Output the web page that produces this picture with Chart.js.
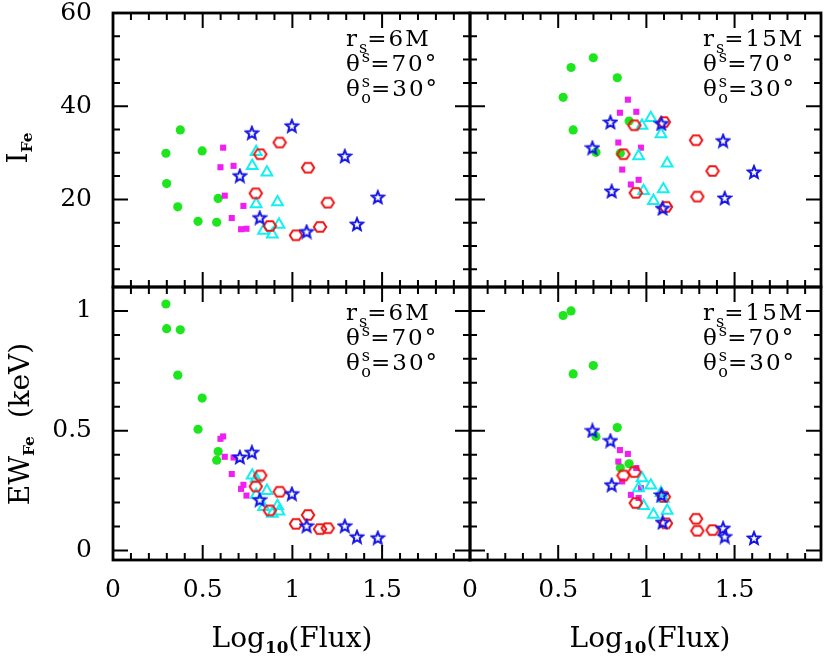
<!DOCTYPE html>
<html>
<head>
<meta charset="utf-8">
<script src="https://cdn.jsdelivr.net/npm/chart.js@4.4.1/dist/chart.umd.min.js"></script>
<style>
  body { margin: 0; background: #fff; }
  #wrap { position: relative; width: 830px; height: 656px; font-family: 'DejaVu Serif', serif; color: #000; overflow: hidden; }
  #wrap canvas { position: absolute; left: 0; top: 0; }
  .note { position: absolute; font-size: 23px; line-height: 25px; letter-spacing: 2px; white-space: nowrap; }
  .note sup, .note sub { font-size: 0.7em; line-height: 0; letter-spacing: 0; }
  .note sup { vertical-align: 0.55em; }
  .note sub { vertical-align: -0.45em; }
  .xtitle { position: absolute; top: 622px; width: 300px; margin-left: -150px; text-align: center; font-size: 28px; line-height: 32px; white-space: nowrap; }
  .xtitle sub { font-size: 0.6em; font-weight: bold; line-height: 0; vertical-align: -0.35em; }
  .ytitle { position: absolute; font-size: 28px; line-height: 32px; white-space: nowrap; transform: translate(-50%, -50%) rotate(-90deg); }
  .ytitle sub { font-size: 0.55em; font-weight: bold; line-height: 0; vertical-align: -0.3em; }
</style>
</head>
<body>
<div id="wrap">
  <canvas id="tl" width="830" height="656"></canvas>
  <canvas id="tr" width="830" height="656"></canvas>
  <canvas id="bl" width="830" height="656"></canvas>
  <canvas id="br" width="830" height="656"></canvas>

  <div class="note" style="left:346px; top:26px">r<sub>s</sub>=6M</div>
  <div class="note" style="left:346px; top:51px">θ<sup>s</sup>=70°</div>
  <div class="note" style="left:346px; top:76px">θ<sup>s</sup><sub style="margin-left:-0.55em">o</sub>=30°</div>

  <div class="note" style="left:703px; top:26px">r<sub>s</sub>=15M</div>
  <div class="note" style="left:703px; top:51px">θ<sup>s</sup>=70°</div>
  <div class="note" style="left:703px; top:76px">θ<sup>s</sup><sub style="margin-left:-0.55em">o</sub>=30°</div>

  <div class="note" style="left:346px; top:300px">r<sub>s</sub>=6M</div>
  <div class="note" style="left:346px; top:325px">θ<sup>s</sup>=70°</div>
  <div class="note" style="left:346px; top:350px">θ<sup>s</sup><sub style="margin-left:-0.55em">o</sub>=30°</div>

  <div class="note" style="left:703px; top:300px">r<sub>s</sub>=15M</div>
  <div class="note" style="left:703px; top:325px">θ<sup>s</sup>=70°</div>
  <div class="note" style="left:703px; top:350px">θ<sup>s</sup><sub style="margin-left:-0.55em">o</sub>=30°</div>

  <div class="ytitle" style="left:18px; top:148px">I<sub>Fe</sub></div>
  <div class="ytitle" style="left:20px; top:424px">EW<sub>Fe</sub>&nbsp; (keV)</div>
  <div class="xtitle" style="left:292px">Log<sub>10</sub>(Flux)</div>
  <div class="xtitle" style="left:650px">Log<sub>10</sub>(Flux)</div>
</div>

<script>
// axes
const fluxRange = [0, 1.99];
const ifeRange = [1.2, 60];
const ewRange = [-0.04, 1.1];
const fluxMajor = [0, 0.5, 1, 1.5];
const ifeMajor = [20, 40, 60];
const ewMajor = [0, 0.5, 1];
const fluxStep = 0.1, ifeStep = 5, ewStep = 0.1;

// r_s = 6M  (panneaux de gauche)
const flux6Green   = [0.375, 0.295, 0.497, 0.299, 0.361, 0.586, 0.474, 0.578];
const ife6Green    = [34.9, 29.9, 30.4, 23.4, 18.4, 20.2, 15.3, 15.1];
const ew6Green     = [0.921, 1.029, 0.636, 0.926, 0.732, 0.413, 0.506, 0.377];
const flux6Magenta = [0.614, 0.599, 0.672, 0.623, 0.727, 0.662, 0.714, 0.744];
const ife6Magenta  = [31.1, 26.9, 27.2, 20.8, 18.6, 16.0, 13.6, 13.7];
const ew6Magenta   = [0.476, 0.466, 0.388, 0.391, 0.274, 0.319, 0.257, 0.229];
const flux6Cyan    = [0.798, 0.776, 0.858, 0.798, 0.917, 0.925, 0.839, 0.888];
const ife6Cyan     = [30.2, 27.2, 25.8, 19.0, 19.4, 14.6, 13.3, 12.5];
const ew6Cyan      = [0.300, 0.313, 0.249, 0.232, 0.186, 0.163, 0.182, 0.154];
const flux6Red     = [0.929, 0.821, 1.087, 0.796, 1.197, 0.874, 1.154, 1.020];
const ife6Red      = [32.2, 29.7, 26.8, 21.3, 19.3, 14.3, 14.1, 12.3];
const ew6Red       = [0.245, 0.313, 0.148, 0.267, 0.093, 0.167, 0.089, 0.111];
const flux6Blue    = [0.774, 0.997, 0.707, 1.292, 1.476, 0.818, 1.360, 1.079];
const ife6Blue     = [34.3, 35.8, 25.1, 29.3, 20.5, 16.1, 14.7, 13.1];
const ew6Blue      = [0.410, 0.237, 0.390, 0.103, 0.053, 0.212, 0.057, 0.103];

// r_s = 15M  (panneaux de droite)
const flux15Green   = [0.699, 0.573, 0.835, 0.528, 0.585, 0.902, 0.714, 0.852];
const ife15Green    = [50.4, 48.3, 46.1, 41.9, 34.9, 36.8, 30.1, 29.9];
const ew15Green     = [0.772, 1.000, 0.513, 0.981, 0.737, 0.362, 0.476, 0.345];
const flux15Magenta = [0.895, 0.850, 0.943, 0.841, 0.969, 0.863, 0.956, 0.912];
const ife15Magenta  = [41.4, 38.6, 38.8, 32.2, 31.1, 26.4, 24.2, 23.2];
const ew15Magenta   = [0.403, 0.419, 0.344, 0.371, 0.260, 0.288, 0.219, 0.232];
const flux15Cyan    = [1.025, 0.975, 1.083, 0.956, 1.118, 1.096, 0.984, 1.040];
const ife15Cyan     = [37.5, 35.8, 34.0, 29.3, 27.7, 22.2, 21.8, 19.7];
const ew15Cyan      = [0.271, 0.302, 0.240, 0.260, 0.166, 0.216, 0.186, 0.149];
const flux15Red     = [1.099, 0.932, 1.282, 0.870, 1.375, 0.940, 1.289, 1.111];
const ife15Red      = [36.6, 35.9, 32.7, 29.7, 26.1, 21.4, 20.6, 18.4];
const ew15Red       = [0.224, 0.327, 0.132, 0.313, 0.085, 0.198, 0.082, 0.113];
const flux15Blue    = [0.796, 1.085, 1.435, 0.694, 1.610, 0.803, 1.444, 1.092];
const ife15Blue     = [36.6, 36.3, 32.6, 31.1, 25.9, 21.8, 20.3, 18.1];
const ew15Blue      = [0.459, 0.232, 0.093, 0.501, 0.052, 0.274, 0.058, 0.118];

Chart.defaults.font.family = "'DejaVu Serif', serif";
Chart.defaults.font.size = 25;
Chart.defaults.color = '#000';

// symboles maison (hexagone et étoile creux)
function makeHexagon(color) {
    const c = document.createElement('canvas');
    c.width = 16; c.height = 16;
    const g = c.getContext('2d');
    g.strokeStyle = color; g.lineWidth = 2;
    g.beginPath();
    for (let i = 0; i < 6; i++) {
        const a = i * Math.PI / 3;
        const px = 8 + 6.2 * Math.cos(a), py = 8 + 5.6 * Math.sin(a);
        if (i === 0) g.moveTo(px, py); else g.lineTo(px, py);
    }
    g.closePath(); g.stroke();
    return c;
}

function makeStar(color) {
    const c = document.createElement('canvas');
    c.width = 16; c.height = 16;
    const g = c.getContext('2d');
    g.strokeStyle = color; g.lineWidth = 2; g.lineJoin = 'miter';
    g.beginPath();
    for (let i = 0; i < 10; i++) {
        const a = -Math.PI / 2 + i * Math.PI / 5;
        const r = i % 2 ? 2.8 : 6.4;
        const px = 8 + r * Math.cos(a), py = 8.6 + r * Math.sin(a);
        if (i === 0) g.moveTo(px, py); else g.lineTo(px, py);
    }
    g.closePath(); g.stroke();
    return c;
}

const hexRed = makeHexagon('#f01414');
const starBlue = makeStar('#1414e6');

const toPoints = (xs, ys) => xs.map((x, i) => ({ x, y: ys[i] }));

// premier = dessiné au-dessus
function buildDatasets(s) {
    return [
        { label: 'blue', data: toPoints(s.blue[0], s.blue[1]), pointStyle: starBlue, pointRadius: 8 },
        { label: 'red', data: toPoints(s.red[0], s.red[1]), pointStyle: hexRed, pointRadius: 8 },
        { label: 'cyan', data: toPoints(s.cyan[0], s.cyan[1]), pointStyle: 'triangle', pointRadius: 6.2,
          borderColor: '#14f0f0', backgroundColor: 'rgba(0,0,0,0)', borderWidth: 2 },
        { label: 'magenta', data: toPoints(s.magenta[0], s.magenta[1]), pointStyle: 'rect', pointRadius: 4.3,
          borderWidth: 0, backgroundColor: '#f01ef0' },
        { label: 'green', data: toPoints(s.green[0], s.green[1]), pointStyle: 'circle', pointRadius: 4.6,
          borderWidth: 0, backgroundColor: '#1ee61e' }
    ].map(d => ({ showLine: false, pointHoverRadius: d.pointRadius, ...d }));
}

function stepTicks(min, max, step) {
    const out = [];
    for (let k = Math.ceil(min / step - 1e-9); k * step <= max + 1e-9; k++) out.push(+(k * step).toFixed(4));
    return out;
}

// cadre + graduations vers l'intérieur sur les 4 côtés
const framePlugin = {
    id: 'frame',
    afterDatasetsDraw(chart, args, opts) {
        const { ctx, chartArea: a, scales: { x, y } } = chart;
        const seg = (x0, y0, x1, y1) => { ctx.moveTo(x0, y0); ctx.lineTo(x1, y1); };
        ctx.save();
        ctx.strokeStyle = '#000';
        ctx.lineWidth = 2;
        ctx.beginPath();
        x.ticks.forEach(t => {
            const px = x.getPixelForValue(t.value);
            const len = opts.xMajor.includes(t.value) ? 15 : 7;
            seg(px, a.top, px, a.top + len);
            seg(px, a.bottom, px, a.bottom - len);
        });
        y.ticks.forEach(t => {
            const py = y.getPixelForValue(t.value);
            const len = opts.yMajor.includes(t.value) ? 15 : 7;
            seg(a.left, py, a.left + len, py);
            seg(a.right, py, a.right - len, py);
        });
        ctx.stroke();
        ctx.lineWidth = 2.8;
        ctx.strokeRect(a.left, a.top, a.right - a.left, a.bottom - a.top);
        ctx.restore();
    }
};

// pas de marge automatique pour les étiquettes qui débordent
const noOverflow = s => { s.paddingTop = 0; s.paddingBottom = 0; s.paddingLeft = 0; s.paddingRight = 0; };

function createPanel(id, cfg) {
    const ctx = document.getElementById(id).getContext('2d');
    return new Chart(ctx, {
        type: 'scatter',
        data: { datasets: buildDatasets(cfg.series) },
        options: {
            responsive: false,
            animation: false,
            events: [],
            layout: { padding: cfg.padding },
            plugins: {
                legend: { display: false },
                tooltip: { enabled: false },
                frame: { xMajor: fluxMajor, yMajor: cfg.yMajor }
            },
            scales: {
                x: {
                    type: 'linear', min: fluxRange[0], max: fluxRange[1],
                    grid: { display: false }, border: { display: false },
                    afterBuildTicks: s => { s.ticks = stepTicks(fluxRange[0], fluxRange[1], fluxStep).map(v => ({ value: v })); },
                    afterFit: s => { s.height = cfg.xLabels ? 96 : 0; noOverflow(s); },
                    ticks: {
                        display: cfg.xLabels, autoSkip: false, maxRotation: 0, padding: 7,
                        callback: v => fluxMajor.includes(v) ? String(v) : ''
                    }
                },
                y: {
                    type: 'linear', min: cfg.yRange[0], max: cfg.yRange[1],
                    grid: { display: false }, border: { display: false },
                    afterBuildTicks: s => { s.ticks = stepTicks(cfg.yRange[0], cfg.yRange[1], cfg.yStep).map(v => ({ value: v })); },
                    afterFit: s => { s.width = cfg.yLabels ? 113 : 0; noOverflow(s); },
                    ticks: {
                        display: cfg.yLabels, autoSkip: false, padding: 13,
                        callback: v => cfg.yMajor.includes(v) ? String(v) : ''
                    }
                }
            }
        },
        plugins: [framePlugin]
    });
}

// I_Fe, r_s = 6M
createPanel('tl', {
    series: {
        green: [flux6Green, ife6Green], magenta: [flux6Magenta, ife6Magenta], cyan: [flux6Cyan, ife6Cyan],
        red: [flux6Red, ife6Red], blue: [flux6Blue, ife6Blue]
    },
    padding: { left: 0, top: 13, right: 360, bottom: 369 },
    yRange: ifeRange, yStep: ifeStep, yMajor: ifeMajor, xLabels: false, yLabels: true
});

// I_Fe, r_s = 15M
createPanel('tr', {
    series: {
        green: [flux15Green, ife15Green], magenta: [flux15Magenta, ife15Magenta], cyan: [flux15Cyan, ife15Cyan],
        red: [flux15Red, ife15Red], blue: [flux15Blue, ife15Blue]
    },
    padding: { left: 470, top: 13, right: 2, bottom: 369 },
    yRange: ifeRange, yStep: ifeStep, yMajor: ifeMajor, xLabels: false, yLabels: false
});

// EW_Fe, r_s = 6M
createPanel('bl', {
    series: {
        green: [flux6Green, ew6Green], magenta: [flux6Magenta, ew6Magenta], cyan: [flux6Cyan, ew6Cyan],
        red: [flux6Red, ew6Red], blue: [flux6Blue, ew6Blue]
    },
    padding: { left: 0, top: 287, right: 360, bottom: 0 },
    yRange: ewRange, yStep: ewStep, yMajor: ewMajor, xLabels: true, yLabels: true
});

// EW_Fe, r_s = 15M
createPanel('br', {
    series: {
        green: [flux15Green, ew15Green], magenta: [flux15Magenta, ew15Magenta], cyan: [flux15Cyan, ew15Cyan],
        red: [flux15Red, ew15Red], blue: [flux15Blue, ew15Blue]
    },
    padding: { left: 470, top: 287, right: 2, bottom: 0 },
    yRange: ewRange, yStep: ewStep, yMajor: ewMajor, xLabels: true, yLabels: false
});
</script>
</body>
</html>
